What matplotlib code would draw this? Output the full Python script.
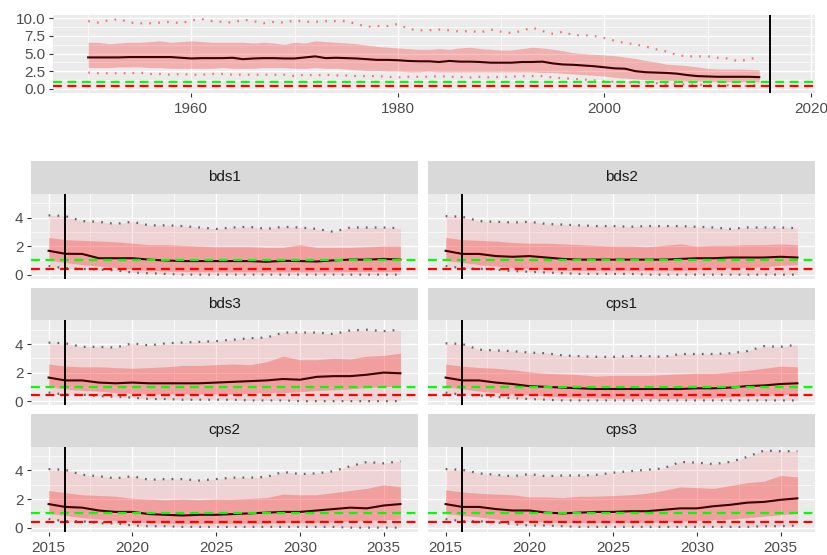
import numpy as np
import matplotlib.pyplot as plt
from matplotlib.ticker import MultipleLocator

plt.rcParams['font.family'] = ['Liberation Sans', 'DejaVu Sans']

# historic period (top panel)
hist_years = np.arange(1950, 2016)
hist_med = [4.45, 4.45, 4.45, 4.45, 4.5, 4.5, 4.5, 4.5, 4.5, 4.4,
            4.3, 4.35, 4.35, 4.35, 4.4, 4.2, 4.3, 4.35, 4.35, 4.3,
            4.3, 4.45, 4.6, 4.35, 4.4, 4.35, 4.3, 4.2, 4.1, 4.1,
            4.05, 3.95, 3.9, 3.9, 3.8, 3.95, 3.85, 3.85, 3.8, 3.7,
            3.7, 3.7, 3.8, 3.8, 3.85, 3.6, 3.45, 3.4, 3.3, 3.2,
            3.05, 2.9, 2.85, 2.5, 2.35, 2.3, 2.25, 2.15, 1.95, 1.8,
            1.75, 1.7, 1.7, 1.7, 1.7, 1.65]
hist_hi = [6.6, 6.6, 6.4, 6.5, 6.6, 6.6, 6.7, 6.8, 6.6, 6.7,
           6.8, 6.7, 6.6, 6.6, 6.6, 6.6, 6.5, 6.6, 6.5, 6.3,
           6.6, 6.5, 6.8, 6.7, 6.6, 6.5, 6.4, 6.2, 6.0, 5.9,
           5.8, 5.7, 5.6, 5.6, 5.7, 5.6, 5.8, 5.9, 5.7, 5.6,
           5.5, 5.5, 5.7, 5.9, 5.8, 5.6, 5.4, 5.1, 5.0, 4.9,
           4.8, 4.7, 4.5, 4.3, 4.0, 3.8, 3.5, 3.4, 3.3, 3.1,
           2.9, 2.8, 2.8, 2.8, 2.75, 2.7]
hist_lo = [3.0, 3.0, 3.0, 3.1, 3.1, 3.1, 3.0, 3.0, 2.9, 2.9,
           2.9, 2.9, 2.9, 3.0, 2.9, 2.9, 2.9, 3.0, 3.0, 3.0,
           2.9, 2.9, 3.0, 2.9, 2.9, 2.8, 2.7, 2.6, 2.6, 2.5,
           2.5, 2.4, 2.4, 2.5, 2.4, 2.4, 2.4, 2.4, 2.4, 2.4,
           2.4, 2.4, 2.4, 2.4, 2.3, 2.3, 2.2, 2.1, 2.0, 1.9,
           1.8, 1.6, 1.5, 1.4, 1.3, 1.25, 1.2, 1.15, 1.1, 1.1,
           1.05, 1.0, 1.0, 1.0, 1.0, 1.0]
hist_dot_hi = [9.6, 9.4, 9.7, 9.9, 9.4, 9.3, 9.3, 9.4, 9.5, 9.3,
               9.7, 9.9, 9.6, 9.5, 9.4, 9.8, 9.6, 9.3, 9.5, 9.4,
               9.7, 9.5, 9.5, 9.6, 9.6, 9.6, 9.2, 8.8, 8.9, 8.9,
               9.2, 8.5, 8.3, 8.3, 8.4, 8.3, 8.1, 8.2, 8.0, 8.4,
               8.1, 7.9, 8.2, 8.7, 8.2, 7.8, 8.1, 7.6, 7.6, 7.5,
               7.2, 6.8, 6.5, 6.3, 6.0, 5.6, 5.3, 4.8, 4.6, 4.6,
               4.6, 4.4, 4.3, 3.9, 4.2, 4.5]
hist_dot_lo = [2.3, 2.2, 2.2, 2.2, 2.2, 2.3, 2.1, 2.1, 2.0, 2.1,
               2.0, 2.0, 2.1, 2.1, 2.0, 2.0, 2.0, 2.0, 2.0, 2.0,
               1.8, 2.0, 1.9, 2.0, 1.9, 1.9, 1.8, 1.8, 1.8, 1.7,
               1.6, 1.7, 1.7, 1.7, 1.8, 1.7, 1.7, 1.6, 1.7, 1.6,
               1.7, 1.7, 1.8, 1.8, 1.8, 1.6, 1.5, 1.4, 1.3, 1.2,
               1.1, 1.0, 0.9, 0.9, 0.8, 0.8, 0.7, 0.7, 0.6, 0.6,
               0.5, 0.5, 0.5, 0.4, 0.4, 0.6]

# projection period (facets)
proj_years = np.arange(2015, 2037)
scenarios = ['bds1', 'bds2', 'bds3', 'cps1', 'cps2', 'cps3']

bds1_med = [1.67, 1.46, 1.45, 1.15, 1.15, 1.15, 1.05, 0.99, 0.95, 0.95, 0.95,
            0.95, 0.95, 0.9, 0.97, 0.95, 0.92, 1.0, 1.05, 1.05, 1.1, 1.05]
bds1_in_hi = [2.6, 2.45, 2.4, 2.35, 2.3, 2.2, 2.1, 2.1, 2.05, 2.0, 1.95,
              1.95, 1.95, 1.9, 1.9, 2.1, 1.9, 1.9, 1.9, 1.95, 2.0, 2.0]
bds1_in_lo = [1.0, 0.85, 0.7, 0.6, 0.5, 0.35, 0.3, 0.25, 0.22, 0.2, 0.2,
              0.2, 0.2, 0.2, 0.2, 0.2, 0.2, 0.2, 0.22, 0.22, 0.22, 0.22]
bds1_dot_hi = [4.15, 4.1, 3.75, 3.7, 3.55, 3.7, 3.45, 3.45, 3.4, 3.3, 3.2,
               3.3, 3.35, 3.2, 3.35, 3.3, 3.2, 3.0, 3.3, 3.3, 3.3, 3.25]
bds1_dot_lo = [0.6, 0.45, 0.4, 0.35, 0.3, 0.15, 0.1, 0.05, 0.0, 0.0, 0.0,
               0.0, 0.0, 0.0, 0.0, 0.0, 0.0, 0.0, 0.0, 0.0, 0.0, 0.0]

bds2_med = [1.67, 1.45, 1.45, 1.3, 1.25, 1.3, 1.2, 1.1, 1.05, 1.05, 1.05,
            1.05, 1.05, 1.05, 1.1, 1.15, 1.15, 1.2, 1.2, 1.2, 1.25, 1.2]
bds2_in_hi = [2.6, 2.45, 2.4, 2.35, 2.25, 2.2, 2.2, 2.15, 2.1, 2.05, 2.0,
              2.0, 1.95, 2.05, 2.15, 2.0, 2.05, 2.05, 2.1, 2.1, 2.15, 2.1]
bds2_in_lo = [1.0, 0.85, 0.7, 0.6, 0.5, 0.4, 0.35, 0.3, 0.3, 0.3, 0.3,
              0.3, 0.3, 0.3, 0.3, 0.35, 0.4, 0.45, 0.5, 0.55, 0.65, 0.7]
bds2_dot_hi = [4.1, 4.05, 3.75, 3.7, 3.65, 3.7, 3.55, 3.5, 3.45, 3.4, 3.4,
               3.35, 3.4, 3.4, 3.4, 3.35, 3.3, 3.2, 3.3, 3.3, 3.3, 3.25]
bds2_dot_lo = [0.6, 0.45, 0.4, 0.35, 0.25, 0.2, 0.15, 0.1, 0.05, 0.05, 0.05,
               0.05, 0.0, 0.0, 0.0, 0.0, 0.0, 0.0, 0.0, 0.0, 0.0, 0.0]

bds3_med = [1.65, 1.45, 1.45, 1.3, 1.25, 1.3, 1.25, 1.25, 1.25, 1.25, 1.3,
            1.35, 1.4, 1.45, 1.55, 1.5, 1.7, 1.75, 1.75, 1.85, 2.0, 1.95]
bds3_in_hi = [2.6, 2.45, 2.4, 2.4, 2.35, 2.3, 2.35, 2.4, 2.5, 2.5, 2.55,
              2.6, 2.55, 2.75, 3.15, 2.9, 2.9, 3.0, 2.95, 3.15, 3.2, 3.35]
bds3_in_lo = [1.0, 0.85, 0.75, 0.7, 0.6, 0.55, 0.5, 0.5, 0.5, 0.5, 0.5,
              0.5, 0.55, 0.6, 0.6, 0.65, 0.75, 0.8, 0.85, 0.95, 1.0, 1.05]
bds3_dot_hi = [4.1, 4.05, 3.8, 3.8, 3.75, 4.05, 3.9, 4.05, 4.1, 4.15, 4.2,
               4.3, 4.4, 4.45, 4.8, 4.8, 4.8, 4.7, 4.95, 5.0, 4.9, 5.0]
bds3_dot_lo = [0.6, 0.45, 0.45, 0.35, 0.3, 0.25, 0.15, 0.15, 0.1, 0.1, 0.1,
               0.1, 0.05, 0.05, 0.05, 0.0, 0.0, 0.0, 0.0, 0.0, 0.0, 0.0]

cps1_med = [1.65, 1.45, 1.45, 1.3, 1.2, 1.05, 1.0, 0.95, 0.9, 0.85, 0.85,
            0.85, 0.85, 0.85, 0.85, 0.9, 0.9, 0.95, 1.05, 1.1, 1.2, 1.25]
cps1_in_hi = [2.6, 2.45, 2.35, 2.3, 2.2, 2.05, 1.95, 1.9, 1.85, 1.75, 1.8,
              1.8, 1.8, 1.85, 1.9, 1.95, 1.95, 2.05, 2.15, 2.3, 2.45, 2.4]
cps1_in_lo = [1.0, 0.85, 0.7, 0.6, 0.5, 0.45, 0.35, 0.3, 0.25, 0.25, 0.2,
              0.2, 0.2, 0.2, 0.2, 0.2, 0.25, 0.3, 0.35, 0.4, 0.45, 0.5]
cps1_dot_hi = [4.05, 4.0, 3.6, 3.55, 3.5, 3.4, 3.35, 3.2, 3.15, 3.1, 3.1,
               3.15, 3.15, 3.1, 3.3, 3.3, 3.3, 3.35, 3.5, 3.85, 3.8, 3.95]
cps1_dot_lo = [0.6, 0.45, 0.4, 0.3, 0.2, 0.15, 0.1, 0.05, 0.05, 0.05, 0.05,
               0.05, 0.05, 0.05, 0.05, 0.05, 0.05, 0.05, 0.05, 0.05, 0.05, 0.05]

cps2_med = [1.65, 1.45, 1.4, 1.2, 1.1, 1.1, 0.95, 0.9, 0.85, 0.9, 0.9,
            0.95, 1.0, 1.05, 1.1, 1.1, 1.2, 1.3, 1.4, 1.35, 1.55, 1.65]
cps2_in_hi = [2.6, 2.45, 2.3, 2.25, 2.2, 2.05, 2.0, 1.95, 2.0, 1.95, 2.0,
              2.0, 2.05, 2.1, 2.35, 2.3, 2.3, 2.45, 2.6, 2.75, 3.0, 2.85]
cps2_in_lo = [1.0, 0.85, 0.7, 0.6, 0.5, 0.4, 0.35, 0.3, 0.3, 0.3, 0.3,
              0.3, 0.3, 0.3, 0.35, 0.35, 0.35, 0.4, 0.45, 0.5, 0.55, 0.6]
cps2_dot_hi = [4.1, 4.05, 3.7, 3.6, 3.45, 3.6, 3.35, 3.4, 3.4, 3.3, 3.4,
               3.5, 3.5, 3.55, 3.9, 3.75, 3.8, 3.95, 4.3, 4.6, 4.5, 4.65]
cps2_dot_lo = [0.6, 0.45, 0.45, 0.3, 0.3, 0.15, 0.1, 0.1, 0.05, 0.05, 0.05,
               0.05, 0.05, 0.05, 0.05, 0.05, 0.05, 0.05, 0.0, 0.0, 0.0, 0.0]

cps3_med = [1.65, 1.45, 1.45, 1.3, 1.2, 1.2, 1.05, 1.0, 1.05, 1.1, 1.1,
            1.15, 1.15, 1.25, 1.35, 1.35, 1.5, 1.6, 1.75, 1.8, 1.95, 2.05]
cps3_in_hi = [2.65, 2.5, 2.4, 2.35, 2.3, 2.15, 2.15, 2.1, 2.2, 2.2, 2.25,
              2.3, 2.4, 2.6, 2.85, 2.8, 2.75, 2.95, 3.15, 3.25, 3.65, 3.55]
cps3_in_lo = [1.0, 0.85, 0.75, 0.6, 0.5, 0.45, 0.4, 0.35, 0.35, 0.35, 0.35,
              0.35, 0.35, 0.4, 0.45, 0.5, 0.55, 0.6, 0.7, 0.8, 0.9, 1.0]
cps3_dot_hi = [4.1, 4.05, 3.8, 3.7, 3.6, 3.75, 3.6, 3.65, 3.65, 3.7, 3.85,
               3.95, 4.05, 4.15, 4.6, 4.55, 4.45, 4.6, 4.95, 5.4, 5.35, 5.35]
cps3_dot_lo = [0.6, 0.45, 0.45, 0.35, 0.25, 0.15, 0.15, 0.1, 0.05, 0.05, 0.05,
               0.05, 0.05, 0.05, 0.05, 0.05, 0.05, 0.05, 0.05, 0.1, 0.1, 0.15]

# reference points
target_ref = 1.0   # green
limit_ref = 0.4    # red
current_year = 2016

proj = {
    'bds1': (bds1_med, bds1_in_lo, bds1_in_hi, bds1_dot_lo, bds1_dot_hi),
    'bds2': (bds2_med, bds2_in_lo, bds2_in_hi, bds2_dot_lo, bds2_dot_hi),
    'bds3': (bds3_med, bds3_in_lo, bds3_in_hi, bds3_dot_lo, bds3_dot_hi),
    'cps1': (cps1_med, cps1_in_lo, cps1_in_hi, cps1_dot_lo, cps1_dot_hi),
    'cps2': (cps2_med, cps2_in_lo, cps2_in_hi, cps2_dot_lo, cps2_dot_hi),
    'cps3': (cps3_med, cps3_in_lo, cps3_in_hi, cps3_dot_lo, cps3_dot_hi),
}

W, H = 828, 555
FS = 11
fig = plt.figure(figsize=(W / 100, H / 100), dpi=100)


def add_ax(x0, y0, x1, y1):
    # pixel box -> figure fraction
    return fig.add_axes([x0 / W, 1 - y1 / H, (x1 - x0) / W, (y1 - y0) / H])


def gg_style(ax):
    ax.set_facecolor('#EBEBEB')
    for s in ax.spines.values():
        s.set_visible(False)
    ax.grid(True, which='major', color='white', lw=1.0)
    ax.grid(True, which='minor', color='white', lw=0.5)
    ax.set_axisbelow(True)
    ax.tick_params(which='major', color='#333333', labelcolor='#4D4D4D',
                   length=3, width=0.8, labelsize=FS, pad=2.5)
    ax.tick_params(which='minor', length=0)


def ref_lines(ax):
    ax.axhline(target_ref, color='#00FF00', lw=1.6, dashes=(4, 2.5))
    ax.axhline(limit_ref, color='#FF0000', lw=1.6, dashes=(4, 2.5))
    ax.axvline(current_year, color='black', lw=1.4)


# top panel
ax = add_ax(53, 15, 815, 93)
gg_style(ax)
ax.fill_between(hist_years, hist_lo, hist_hi, color='red', alpha=0.25, lw=0)
ax.plot(hist_years, hist_med, color='#3D0000', lw=1.5)
ax.plot(hist_years, hist_dot_hi, color='red', alpha=0.5, lw=1.6, dashes=(0.8, 3.2))
ax.plot(hist_years, hist_dot_lo, color='red', alpha=0.5, lw=1.6, dashes=(0.8, 3.2))
ref_lines(ax)
ax.set_xlim(1946.6, 2020.4)
ax.set_ylim(-0.6, 10.47)
ax.xaxis.set_major_locator(MultipleLocator(20))
ax.xaxis.set_minor_locator(MultipleLocator(10))
ax.yaxis.set_major_locator(MultipleLocator(2.5))
ax.yaxis.set_minor_locator(MultipleLocator(1.25))
ax.yaxis.set_major_formatter(lambda v, p: f'{v:.1f}')
ax.tick_params(axis='x', pad=3.5)

# facets
col_x = [(31, 418), (428, 815)]
strip_top = [161, 287.5, 414]
strip_h, panel_h = 32.5, 85

for i, name in enumerate(scenarios):
    r, c = divmod(i, 2)
    x0, x1 = col_x[c]
    y0 = strip_top[r]

    st = add_ax(x0, y0, x1, y0 + strip_h)
    st.set_facecolor('#D9D9D9')
    st.set_xticks([])
    st.set_yticks([])
    for s in st.spines.values():
        s.set_visible(False)
    st.text(0.5, 0.5, name, ha='center', va='center', color='#1A1A1A',
            fontsize=FS, transform=st.transAxes)

    ax = add_ax(x0, y0 + strip_h, x1, y0 + strip_h + panel_h)
    gg_style(ax)
    med, in_lo, in_hi, dot_lo, dot_hi = proj[name]
    ax.fill_between(proj_years, dot_lo, dot_hi, color='red', alpha=0.1, lw=0)
    ax.fill_between(proj_years, in_lo, in_hi, color='red', alpha=0.25, lw=0)
    ax.plot(proj_years, med, color='#3D0000', lw=1.5)
    ax.plot(proj_years, dot_hi, color='#666666', lw=1.6, dashes=(0.8, 3.2))
    ax.plot(proj_years, dot_lo, color='#666666', lw=1.6, dashes=(0.8, 3.2))
    ref_lines(ax)
    ax.set_xlim(2013.95, 2037.05)
    ax.set_ylim(-0.27, 5.68)
    ax.xaxis.set_major_locator(MultipleLocator(5))
    ax.xaxis.set_minor_locator(MultipleLocator(2.5))
    ax.yaxis.set_major_locator(MultipleLocator(2))
    ax.yaxis.set_minor_locator(MultipleLocator(1))
    ax.tick_params(axis='x', pad=3.5)
    if r < 2:
        ax.tick_params(axis='x', which='major', length=0, labelbottom=False)
    if c == 1:
        ax.tick_params(axis='y', which='major', length=0, labelleft=False)

fig.savefig('out.png', dpi=100)
